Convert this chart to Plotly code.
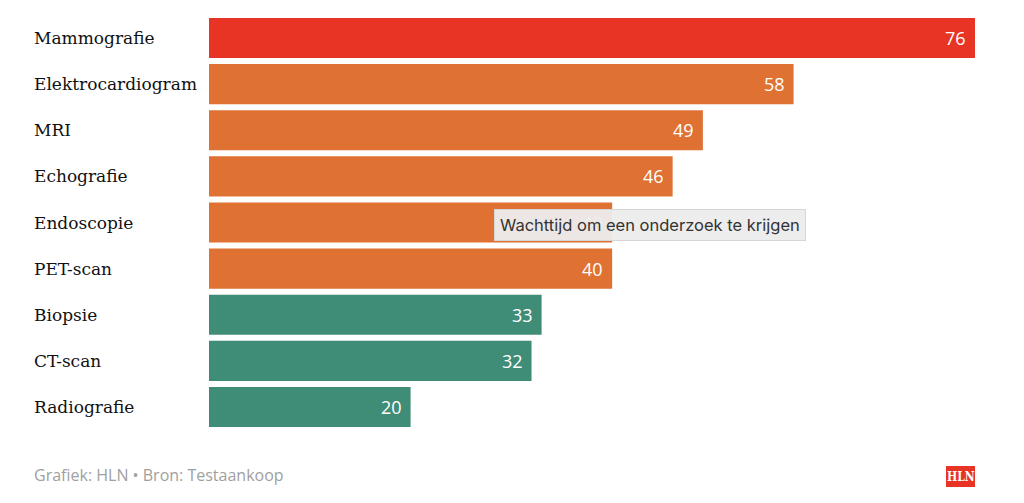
import plotly.graph_objects as go

categories = ["Mammografie", "Elektrocardiogram", "MRI", "Echografie", "Endoscopie",
              "PET-scan", "Biopsie", "CT-scan", "Radiografie"]
values = [76, 58, 49, 46, 40, 40, 33, 32, 20]
groups = ["red", "orange", "orange", "orange", "orange", "orange", "green", "green", "green"]
palette = {"red": "#E83425", "orange": "#DF7233", "green": "#3F8C77"}
tooltip_text = "Wachttijd om een onderzoek te krijgen"
footer_text = "Grafiek: HLN • Bron: Testaankoop"
logo_text = "HLN"

W, H = 1024, 503
L, R, T, B = 209, 49, 15, 73
PW, PH = W - L - R, H - T - B

def px(x):
    return (x - L) / PW

def py(y):
    return (H - B - y) / PH

fig = go.Figure()
fig.add_trace(go.Bar(
    x=values, y=categories, orientation="h",
    marker=dict(color=[palette[g] for g in groups], line=dict(width=0)),
    width=0.87, hoverinfo="skip",
))

annotations = []
for c in categories:
    annotations.append(dict(x=px(32), y=c, xref="paper", yref="y", text=c,
                            showarrow=False, xanchor="left", yanchor="middle",
                            font=dict(family="DejaVu Serif", size=17, color="#111111")))
for c, v in zip(categories, values):
    annotations.append(dict(x=v, y=c, xref="x", yref="y", text=str(v), xshift=-7,
                            showarrow=False, xanchor="right", yanchor="middle",
                            font=dict(family="Open Sans", size=18, color="white")))
annotations.append(dict(x=px(32), y=py(475), xref="paper", yref="paper", text=footer_text,
                        showarrow=False, xanchor="left", yanchor="middle",
                        font=dict(family="Open Sans", size=16, color="#a0a0a0")))
annotations.append(dict(x=px(494), y=py(225), xref="paper", yref="paper", text=tooltip_text,
                        showarrow=False, xanchor="left", yanchor="middle",
                        bgcolor="rgba(236,236,236,0.96)", bordercolor="#d6d6d6", borderwidth=1,
                        borderpad=5,
                        font=dict(family="Inter", size=16.5, color="#333333")))
annotations.append(dict(x=px(960.5), y=py(477), xref="paper", yref="paper", text="<b>" + logo_text + "</b>",
                        showarrow=False, xanchor="center", yanchor="middle",
                        font=dict(family="DejaVu Serif Condensed, DejaVu Serif", size=12, color="white")))

fig.update_layout(
    width=W, height=H,
    margin=dict(l=L, r=R, t=T, b=B, pad=0),
    paper_bgcolor="white", plot_bgcolor="white",
    showlegend=False,
    xaxis=dict(range=[0, 76], visible=False, fixedrange=True),
    yaxis=dict(categoryorder="array", categoryarray=categories, autorange="reversed",
               showticklabels=False, showgrid=False, zeroline=False, fixedrange=True),
    annotations=annotations,
    shapes=[dict(type="rect", xref="paper", yref="paper",
                 x0=px(946), x1=px(975), y0=py(487), y1=py(466),
                 fillcolor="#E83425", line=dict(width=0), layer="below")],
)

fig.write_html("out.html", config={"displayModeBar": False})
